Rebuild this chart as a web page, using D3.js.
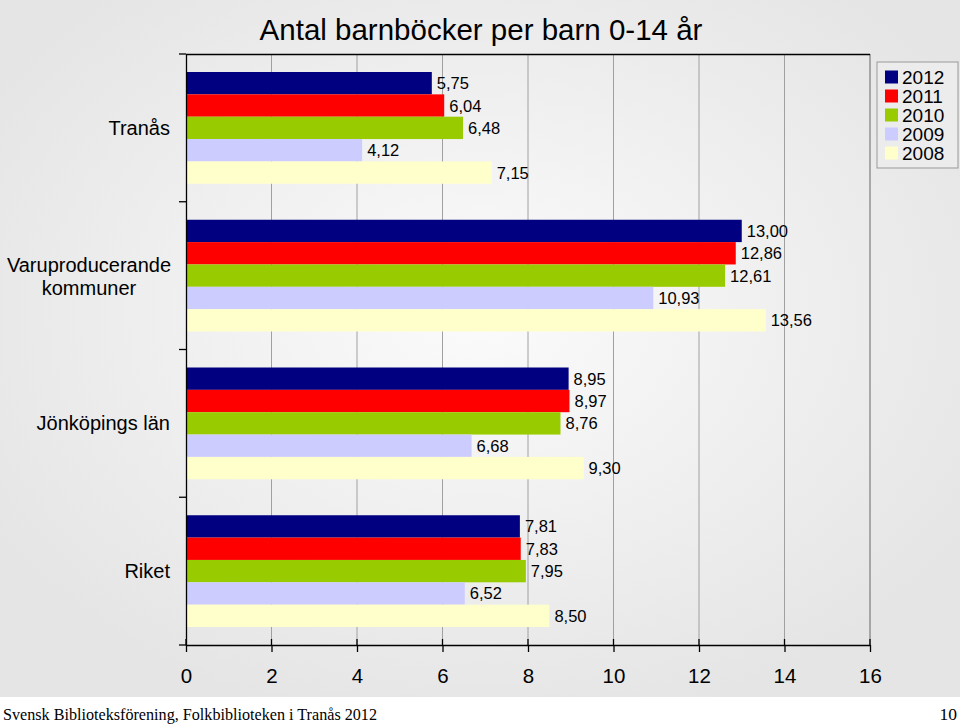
<!DOCTYPE html>
<html>
<head>
<meta charset="utf-8">
<script src="https://cdn.jsdelivr.net/npm/d3@7/dist/d3.min.js"></script>
<style>
html,body{margin:0;padding:0;background:#fff;}
svg{display:block;}
</style>
</head>
<body>
<svg id="chart" width="960" height="725"></svg>
<script>
const categories = ["Tranås", "Varuproducerande kommuner", "Jönköpings län", "Riket"];
const categoryLines = [["Tranås"], ["Varuproducerande", "kommuner"], ["Jönköpings län"], ["Riket"]];
const years = ["2012", "2011", "2010", "2009", "2008"];
const values2012 = [5.75, 13.00, 8.95, 7.81];
const values2011 = [6.04, 12.86, 8.97, 7.83];
const values2010 = [6.48, 12.61, 8.76, 7.95];
const values2009 = [4.12, 10.93, 6.68, 6.52];
const values2008 = [7.15, 13.56, 9.30, 8.50];
const xTicks = [0, 2, 4, 6, 8, 10, 12, 14, 16];
const colors = ["#000080", "#ff0000", "#99cc00", "#ccccff", "#ffffcc"];
const title = "Antal barnböcker per barn 0-14 år";
const footer = "Svensk Biblioteksförening, Folkbiblioteken i Tranås 2012";
const pageNo = "10";

const series = [values2012, values2011, values2010, values2009, values2008];

const svg = d3.select("#chart");
const W = 960, H = 725;
const SANS = "Liberation Sans, Arial, sans-serif";
const SERIF = "Liberation Serif, Times New Roman, serif";

// background gradient
const defs = svg.append("defs");
const grad = defs.append("radialGradient").attr("id", "bg")
  .attr("cx", "50%").attr("cy", "45%").attr("r", "60%");
grad.append("stop").attr("offset", "0%").attr("stop-color", "#fbfbfb");
grad.append("stop").attr("offset", "100%").attr("stop-color", "#e5e5e5");
svg.append("rect").attr("width", W).attr("height", 697).attr("fill", "url(#bg)");
svg.append("rect").attr("y", 697).attr("width", W).attr("height", H - 697).attr("fill", "#ffffff");

const m = {left: 186, right: 870, top: 54, bottom: 645};

const x = d3.scaleLinear().domain([0, 16]).range([m.left, m.right]);
const y0 = d3.scaleBand().domain(categories).range([m.top, m.bottom]).paddingInner(0).paddingOuter(0);
const y1 = d3.scaleBand().domain(years).range([18, y0.bandwidth() - 18]).padding(0);

// gridlines
svg.append("g").selectAll("line").data(xTicks.slice(1)).join("line")
  .attr("x1", d => x(d)).attr("x2", d => x(d))
  .attr("y1", m.top).attr("y2", m.bottom)
  .attr("stroke", d => d === 16 ? "#666" : "#a0a0a0").attr("stroke-width", 1);

// top border
svg.append("line").attr("x1", m.left).attr("x2", m.right).attr("y1", m.top + 0.5).attr("y2", m.top + 0.5)
  .attr("stroke", "#000").attr("stroke-width", 1.3);

// bars
categories.forEach((c, ci) => {
  const g = svg.append("g").attr("transform", `translate(0,${y0(c)})`);
  years.forEach((yr, si) => {
    const v = series[si][ci];
    g.append("rect")
      .attr("x", x(0)).attr("y", y1(yr))
      .attr("width", x(v) - x(0)).attr("height", y1.bandwidth())
      .attr("fill", colors[si]);
  });
  years.forEach((yr, si) => {
    const v = series[si][ci];
    g.append("text")
      .attr("x", x(v) + 5).attr("y", y1(yr) + y1.bandwidth() / 2 + 6)
      .attr("font-family", SANS)
      .attr("font-size", 16.5).attr("fill", "#000")
      .text(d3.format(".2f")(v).replace(".", ","));
  });
});

// x axis
const xAxis = d3.axisBottom(x).tickValues(xTicks).tickSize(7).tickSizeOuter(0).tickFormat(d => d);
const gx = svg.append("g").attr("transform", `translate(0,${m.bottom})`).call(xAxis);
gx.select(".domain").attr("stroke", "#000").attr("stroke-width", 1.3);
gx.selectAll(".tick line").attr("stroke", "#000").attr("stroke-width", 1.3);
gx.selectAll(".tick text").attr("font-family", SANS)
  .attr("font-size", 20.5).attr("fill", "#000").attr("y", 17).attr("dy", "1em");
svg.append("g").selectAll("line").data(xTicks).join("line")
  .attr("x1", d => x(d)).attr("x2", d => x(d))
  .attr("y1", m.bottom - 6).attr("y2", m.bottom)
  .attr("stroke", "#000").attr("stroke-width", 1.3);

// y axis
const yAxis = d3.axisLeft(y0).tickSize(0).tickFormat("");
const gy = svg.append("g").attr("transform", `translate(${m.left},0)`).call(yAxis);
gy.select(".domain").attr("stroke", "#000").attr("stroke-width", 1.3);
const bounds = categories.map(c => y0(c)).concat([m.bottom]);
svg.append("g").selectAll("line").data(bounds).join("line")
  .attr("x1", m.left - 7).attr("x2", m.left)
  .attr("y1", d => d).attr("y2", d => d)
  .attr("stroke", "#000").attr("stroke-width", 1.3);

// category labels
categories.forEach((c, ci) => {
  const lines = categoryLines[ci];
  const cy = y0(c) + y0.bandwidth() / 2;
  const lh = 23;
  const t = svg.append("text")
    .attr("font-family", SANS)
    .attr("font-size", 20).attr("fill", "#000");
  if (lines.length === 1) {
    t.attr("x", 170).attr("y", cy + 7).attr("text-anchor", "end").text(lines[0]);
  } else {
    t.attr("text-anchor", "middle");
    lines.forEach((ln, li) => {
      t.append("tspan").attr("x", 89)
        .attr("y", cy + 8 + (li - (lines.length - 1) / 2) * lh).text(ln);
    });
  }
});

// title
svg.append("text").attr("x", 481).attr("y", 40).attr("text-anchor", "middle")
  .attr("font-family", SANS)
  .attr("font-size", 29.5).attr("fill", "#000").text(title);

// legend
const lg = svg.append("g").attr("transform", "translate(877,62)");
lg.append("rect").attr("x", 0).attr("y", 0).attr("width", 81).attr("height", 106)
  .attr("fill", "#ececec").attr("stroke", "#999").attr("stroke-width", 1);
years.forEach((yr, i) => {
  const yy = 15 + i * 19;
  lg.append("rect").attr("x", 8).attr("y", yy - 6.5).attr("width", 13).attr("height", 13).attr("fill", colors[i]);
  lg.append("text").attr("x", 25).attr("y", yy + 7)
    .attr("font-family", SANS)
    .attr("font-size", 19).attr("fill", "#000").text(yr);
});

// footer
svg.append("text").attr("x", 3).attr("y", 720)
  .attr("font-family", SERIF)
  .attr("font-size", 17.5).attr("fill", "#000")
  .attr("textLength", 374).attr("lengthAdjust", "spacingAndGlyphs").text(footer);
svg.append("text").attr("x", 957).attr("y", 720).attr("text-anchor", "end")
  .attr("font-family", SERIF)
  .attr("font-size", 17.5).attr("fill", "#000").text(pageNo);
</script>
</body>
</html>
